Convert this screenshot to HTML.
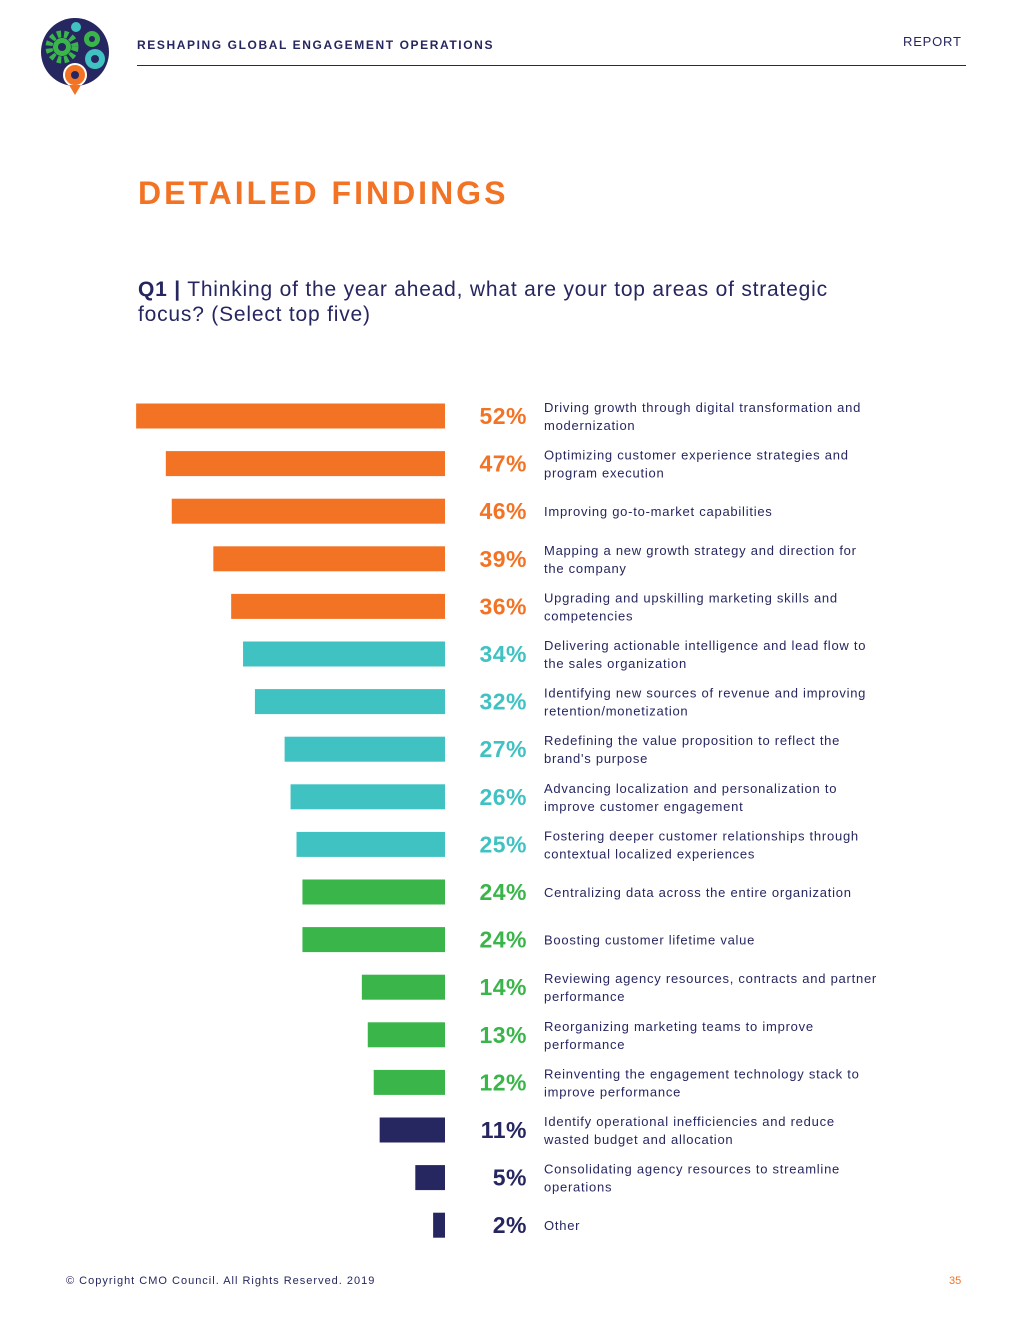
<!DOCTYPE html>
<html><head><meta charset="utf-8"><style>
body{margin:0;width:1020px;height:1320px;background:#fff;font-family:"Liberation Sans",sans-serif;position:relative;overflow:hidden}
.a{position:absolute}
</style></head><body>
<svg class="a" style="left:40px;top:17px" width="72" height="80" viewBox="0 0 72 80">
<circle cx="35" cy="35" r="34" fill="#262660"/>
<circle cx="22" cy="30" r="13" fill="none" stroke="#39B54A" stroke-width="7" stroke-dasharray="4 3"/><circle cx="22" cy="30" r="9" fill="#39B54A"/><circle cx="22" cy="30" r="4" fill="#262660"/>
<circle cx="52" cy="22" r="8" fill="#39B54A"/><circle cx="52" cy="22" r="3" fill="#262660"/>
<circle cx="55" cy="42" r="10" fill="#40C1C2"/><circle cx="55" cy="42" r="4" fill="#262660"/>
<circle cx="36" cy="10" r="5" fill="#40C1C2"/>
<circle cx="35" cy="58" r="11" fill="#F37325" stroke="#fff" stroke-width="2"/><circle cx="35" cy="58" r="4" fill="#262660"/>
<polygon points="29,68 41,68 35,78" fill="#F37325"/>
</svg>
<div class="a" style="left:137px;top:38px;font-size:12px;font-weight:bold;letter-spacing:1.6px;color:#262660">RESHAPING GLOBAL ENGAGEMENT OPERATIONS</div>
<div class="a" style="left:903px;top:34px;font-size:13px;letter-spacing:.8px;color:#262660">REPORT</div>
<div class="a" style="left:137px;top:65px;width:829px;height:1px;background:#262660"></div>
<div class="a" style="left:138px;top:175px;font-size:32px;font-weight:bold;letter-spacing:3px;color:#F37325">DETAILED FINDINGS</div>
<div class="a" style="left:138px;top:277px;width:800px;white-space:nowrap;font-size:21px;line-height:25px;letter-spacing:.8px;color:#262660"><b>Q1 |</b> Thinking of the year ahead, what are your top areas of strategic<br>focus? (Select top five)</div>
<svg class="a" id="chart" style="left:0;top:0" width="1020" height="1320"></svg>
<div class="a" style="left:66px;top:1275px;font-size:11px;letter-spacing:1px;color:#262660">© Copyright CMO Council. All Rights Reserved. 2019</div>
<div class="a" style="left:949px;top:1275px;font-size:11px;color:#F37325">35</div>
<script>
const values=[52,47,46,39,36,34,32,27,26,25,24,24,14,13,12,11,5,2];
const groups=[0,0,0,0,0,1,1,1,1,1,2,2,2,2,2,3,3,3];
const labels=[
["Driving growth through digital transformation and","modernization"],
["Optimizing customer experience strategies and","program execution"],
["Improving go-to-market capabilities"],
["Mapping a new growth strategy and direction for","the company"],
["Upgrading and upskilling marketing skills and","competencies"],
["Delivering actionable intelligence and lead flow to","the sales organization"],
["Identifying new sources of revenue and improving","retention/monetization"],
["Redefining the value proposition to reflect the","brand's purpose"],
["Advancing localization and personalization to","improve customer engagement"],
["Fostering deeper customer relationships through","contextual localized experiences"],
["Centralizing data across the entire organization"],
["Boosting customer lifetime value"],
["Reviewing agency resources, contracts and partner","performance"],
["Reorganizing marketing teams to improve","performance"],
["Reinventing the engagement technology stack to","improve performance"],
["Identify operational inefficiencies and reduce","wasted budget and allocation"],
["Consolidating agency resources to streamline","operations"],
["Other"]];
const colors=["#F37325","#40C1C2","#39B54A","#262660"];
const svg=document.getElementById('chart');const NS="http://www.w3.org/2000/svg";
const x=v=>v*5.94, right=445, y=i=>416+i*47.6;
values.forEach((v,i)=>{
 const r=document.createElementNS(NS,'rect');
 
 
 r.setAttribute('x',right-x(v));r.setAttribute('y',y(i)-12.5);r.setAttribute('width',x(v));r.setAttribute('height',25);r.setAttribute('fill',colors[groups[i]]);svg.appendChild(r);
 const t=document.createElementNS(NS,'text');
 
 
 t.setAttribute('x',527);t.setAttribute('y',y(i)+8);t.setAttribute('text-anchor','end');t.setAttribute('font-size','23');t.setAttribute('font-weight','bold');t.setAttribute('letter-spacing','0.5');t.setAttribute('fill',colors[groups[i]]);t.setAttribute('font-family','Liberation Sans, sans-serif');t.textContent=v+'%';svg.appendChild(t);
 const L=labels[i];
 L.forEach((s,k)=>{
  const d=document.createElementNS(NS,'text');
  
  
  d.setAttribute('x',544);d.setAttribute('y',y(i)+5+(k-(L.length-1)/2)*18);d.setAttribute('font-size','13');d.setAttribute('fill','#262660');d.setAttribute('letter-spacing','0.75');d.setAttribute('font-family','Liberation Sans, sans-serif');d.textContent=s;svg.appendChild(d);
 });
});
</script>
</body></html>
